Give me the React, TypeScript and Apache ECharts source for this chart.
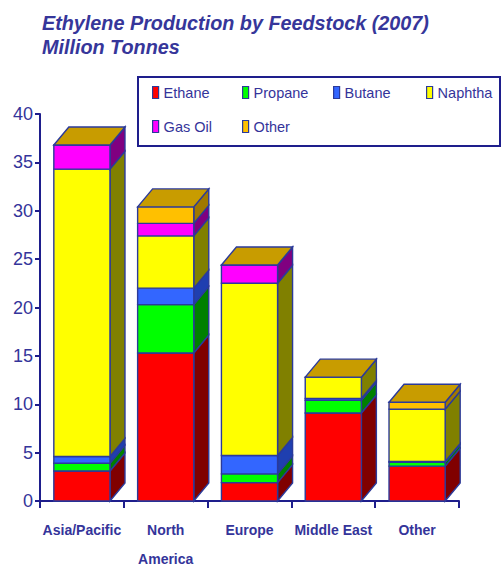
import React, { useEffect, useRef } from "react";
import * as echarts from "echarts";

const categories = ["Asia/Pacific", "North\nAmerica", "Europe", "Middle East", "Other"];
const seriesNames = ["Ethane", "Propane", "Butane", "Naphtha", "Gas Oil", "Other"];
const ethane = [3.1, 15.3, 1.9, 9.1, 3.6];
const propane = [0.8, 5.0, 0.9, 1.3, 0.4];
const butane = [0.7, 1.7, 1.9, 0.2, 0.1];
const naphtha = [29.7, 5.4, 17.8, 2.2, 5.4];
const gasOil = [2.5, 1.3, 1.9, 0, 0];
const other = [0, 1.7, 0, 0, 0.7];
const yTicks = [0, 5, 10, 15, 20, 25, 30, 35, 40];

const frontColors = ["#FF0000", "#00FF00", "#3366FF", "#FFFF00", "#FF00FF", "#FFC000"];
const sideColors = ["#800000", "#008000", "#1F3FB0", "#808000", "#800080", "#A07800"];
const topColor = "#C89C00";
const edge = "#2B3A9A";
const navy = "#1E1E8C";
const textNavy = "#34349A";
const sans = "'Liberation Sans', Arial, sans-serif";

const allValues = [ethane, propane, butane, naphtha, gasOil, other];

export default function App() {
  const ref = useRef<HTMLDivElement>(null);
  useEffect(() => {
    document.body.style.margin = "0";
    if (!ref.current) return;
    const chart = echarts.init(ref.current, undefined, { renderer: "svg" });
    const cum = categories.map(() => 0);
    const lastIdx = allValues.length - 1;
    const series = allValues.map((vals, si) => {
      const data = vals.map((v, ci) => {
        const lo = cum[ci];
        cum[ci] += v;
        return [ci, lo, cum[ci]];
      });
      return {
        type: "custom",
        name: seriesNames[si],
        itemStyle: { color: frontColors[si] },
        data,
        renderItem: (params: any, api: any) => {
          const ci = api.value(0);
          const lo = api.value(1);
          const hi = api.value(2);
          const pLo = api.coord([ci, lo]);
          const pHi = api.coord([ci, hi]);
          const band = api.size([1, 0])[0];
          const w = band * 0.67;
          const dx = 15;
          const dy = 18;
          const x0 = pLo[0] - w / 2;
          const x1 = x0 + w;
          const yLo = pLo[1];
          const yHi = pHi[1];
          const stroke = { stroke: edge, lineWidth: 1.4 };
          const children: any[] = [
            {
              type: "polygon",
              shape: { points: [[x1, yLo], [x1 + dx, yLo - dy], [x1 + dx, yHi - dy], [x1, yHi]] },
              style: { fill: sideColors[si], ...stroke },
            },
            {
              type: "rect",
              shape: { x: x0, y: yHi, width: w, height: yLo - yHi },
              style: { fill: frontColors[si], ...stroke },
            },
          ];
          if (si === lastIdx) {
            children.push({
              type: "polygon",
              shape: { points: [[x0, yHi], [x0 + dx, yHi - dy], [x1 + dx, yHi - dy], [x1, yHi]] },
              style: { fill: topColor, ...stroke },
            });
          }
          return { type: "group", children };
        },
      };
    });

    const legendPos = [
      [152, 85], [242, 85], [333, 85], [426, 85],
      [152, 119], [242, 119],
    ];
    const legends = seriesNames.map((n, i) => ({
      data: [n],
      left: legendPos[i][0],
      top: legendPos[i][1],
      padding: 0,
      icon: "rect",
      itemWidth: 6,
      itemHeight: 12,
      itemStyle: { borderColor: edge, borderWidth: 1.2 },
      textStyle: { fontFamily: sans, fontSize: 14.5, color: textNavy },
      selectedMode: false,
    }));

    chart.setOption({
      animation: false,
      title: {
        text: "Ethylene Production by Feedstock (2007)\nMillion Tonnes",
        left: 42,
        top: 11,
        padding: 0,
        textStyle: {
          fontFamily: sans,
          fontSize: 19.8,
          fontStyle: "italic",
          fontWeight: "bold",
          lineHeight: 24,
          color: "#36369A",
        },
      },
      legend: legends,
      graphic: [
        {
          type: "rect",
          shape: { x: 138, y: 77, width: 362, height: 69 },
          style: { fill: "none", stroke: navy, lineWidth: 2 },
          z: -1,
        },
      ],
      grid: { left: 40, right: 43, top: 114, bottom: 66, outerBoundsMode: "none", containLabel: false },
      xAxis: {
        type: "category",
        data: categories,
        axisLine: { lineStyle: { color: navy, width: 2 } },
        axisTick: { show: true, length: 7, lineStyle: { color: navy, width: 2 } },
        axisLabel: {
          interval: 0,
          fontFamily: sans,
          fontSize: 14,
          fontWeight: "bold",
          color: textNavy,
          lineHeight: 29,
          margin: 14,
        },
      },
      yAxis: {
        type: "value",
        min: yTicks[0],
        max: yTicks[yTicks.length - 1],
        interval: 5,
        axisLine: { show: true, lineStyle: { color: navy, width: 2 } },
        axisTick: { show: true, length: 5, lineStyle: { color: navy, width: 2 } },
        splitLine: { show: false },
        axisLabel: {
          fontFamily: sans,
          fontSize: 18,
          color: textNavy,
          margin: 7,
        },
      },
      series,
    });
    return () => chart.dispose();
  }, []);
  return <div ref={ref} style={{ width: 502, height: 567 }} />;
}
